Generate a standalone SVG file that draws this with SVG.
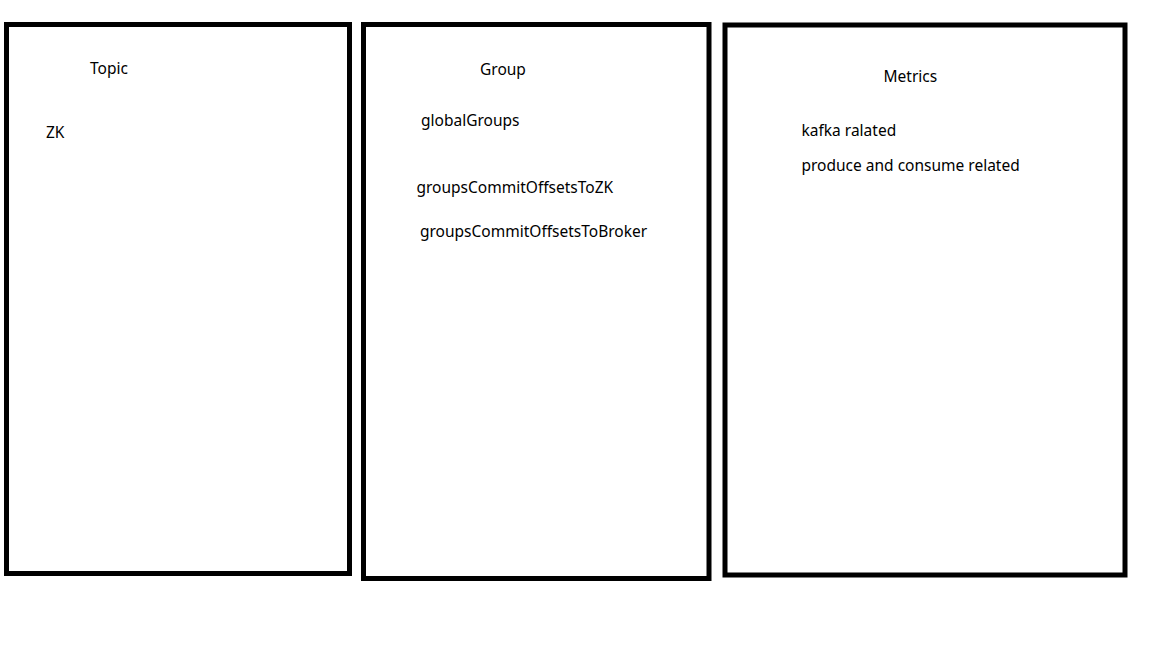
<svg xmlns="http://www.w3.org/2000/svg" width="1152" height="648" viewBox="0 0 1152 648">
<style>
.box{fill:#fff;stroke:#000;stroke-width:5}
.t{font-family:"Noto Sans","Open Sans","Liberation Sans",sans-serif;font-size:15.5px;fill:#000}
</style>
<rect width="1152" height="648" fill="#fff"/>
<g id="topic">
<rect class="box" x="6.5" y="24.5" width="343" height="549"/>
<text class="t" x="90" y="73.5">Topic</text>
<text class="t" x="46" y="138">ZK</text>
</g>
<g id="group">
<rect class="box" x="363.5" y="24.5" width="345.5" height="554"/>
<text class="t" x="480" y="75">Group</text>
<text class="t" x="421" y="126">globalGroups</text>
<text class="t" x="416.5" y="193">groupsCommitOffsetsToZK</text>
<text class="t" x="420" y="236.5">groupsCommitOffsetsToBroker</text>
</g>
<g id="metrics">
<rect class="box" x="725" y="25" width="400" height="550"/>
<text class="t" x="883.5" y="82">Metrics</text>
<text class="t" x="801.5" y="136">kafka ralated</text>
<text class="t" x="801.5" y="171">produce and consume related</text>
</g>
<g id="connectors"></g>
</svg>
